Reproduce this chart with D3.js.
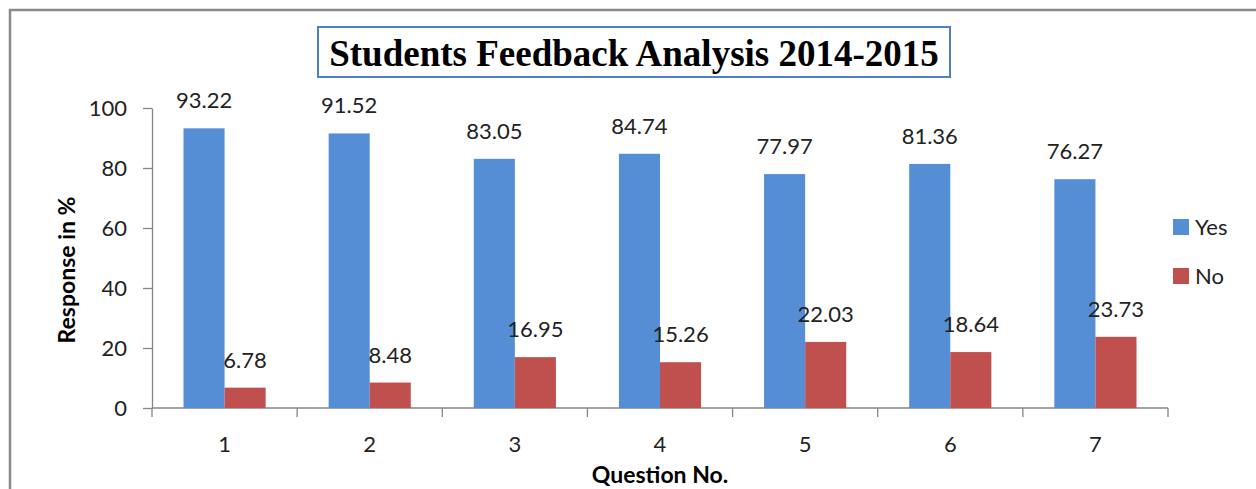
<!DOCTYPE html>
<html>
<head>
<meta charset="utf-8">
<script src="https://d3js.org/d3.v7.min.js"></script>
<style>
  body { margin: 0; background: #fff; }
  text { font-family: Lato, "Open Sans", sans-serif; }
</style>
</head>
<body>
<div id="viz"></div>
<script>

// Data
var questions = ["1", "2", "3", "4", "5", "6", "7"];
var yesValues = [93.22, 91.52, 83.05, 84.74, 77.97, 81.36, 76.27];
var noValues = [6.78, 8.48, 16.95, 15.26, 22.03, 18.64, 23.73];
var seriesNames = ["Yes", "No"];
var yTicks = [0, 20, 40, 60, 80, 100];

var width = 1256,
    height = 489;

var margin = { left: 152, right: 88, top: 108, bottom: 81 };
var plotRight = width - margin.right,
    plotBottom = height - margin.bottom;

var colors = d3.scaleOrdinal()
    .domain(seriesNames)
    .range(["#558ed5", "#c0504d"]);

var svg = d3.select("#viz")
    .append("svg")
    .attr("width", width)
    .attr("height", height);

// outer chart frame (runs off the right and bottom edges)
svg.append("rect")
    .attr("x", 10)
    .attr("y", 10)
    .attr("width", 1400)
    .attr("height", 700)
    .attr("fill", "none")
    .attr("stroke", "#8a8a8a")
    .attr("stroke-width", 2.5);

// Scales
var x0 = d3.scaleBand()
    .domain(questions)
    .range([margin.left, plotRight])
    .paddingInner(0.434)
    .paddingOuter(0.217);

var x1 = d3.scaleBand()
    .domain(seriesNames)
    .range([0, x0.bandwidth()]);

var y = d3.scaleLinear()
    .domain([0, 100])
    .range([plotBottom, margin.top]);

// Build rows from the arrays
var rows = questions.map(function(q, i) {
    return { q: q, values: [
        { name: "Yes", value: yesValues[i] },
        { name: "No", value: noValues[i] }
    ] };
});

// Y axis
var yAxis = svg.append("g")
    .attr("transform", "translate(" + margin.left + ",0)")
    .call(d3.axisLeft(y).tickValues(yTicks).tickSize(9).tickPadding(16).tickSizeOuter(0));

yAxis.select(".domain").attr("stroke", "#868686").attr("stroke-width", 1.3);
yAxis.selectAll(".tick line").attr("stroke", "#868686").attr("stroke-width", 1.3);
yAxis.selectAll(".tick text")
    .attr("fill", "#222")
    .style("font-size", "22px");

// X axis: line plus ticks on category boundaries
var step = x0.step();
var xAxis = svg.append("g");

xAxis.append("line")
    .attr("x1", margin.left)
    .attr("x2", plotRight)
    .attr("y1", y(0))
    .attr("y2", y(0))
    .attr("stroke", "#868686")
    .attr("stroke-width", 1.3);

var boundaries = [margin.left].concat(questions.map(function(q) {
    return x0(q) + x0.bandwidth() + step * x0.paddingInner() / 2;
}));
boundaries[boundaries.length - 1] = plotRight;

xAxis.selectAll(".xtick")
    .data(boundaries)
    .enter()
    .append("line")
    .attr("class", "xtick")
    .attr("x1", function(d) { return d; })
    .attr("x2", function(d) { return d; })
    .attr("y1", y(0))
    .attr("y2", y(0) + 9)
    .attr("stroke", "#868686")
    .attr("stroke-width", 1.3);

xAxis.selectAll(".xlabel")
    .data(questions)
    .enter()
    .append("text")
    .attr("class", "xlabel")
    .attr("x", function(d) { return x0(d) + x0.bandwidth() / 2; })
    .attr("y", 452)
    .attr("text-anchor", "middle")
    .attr("fill", "#222")
    .style("font-size", "22px")
    .text(function(d) { return d; });

// Bars
var groups = svg.selectAll(".group")
    .data(rows)
    .enter()
    .append("g")
    .attr("class", "group")
    .attr("transform", function(d) { return "translate(" + x0(d.q) + ",0)"; });

groups.selectAll("rect")
    .data(function(d) { return d.values; })
    .enter()
    .append("rect")
    .attr("x", function(d) { return x1(d.name); })
    .attr("y", function(d) { return y(d.value); })
    .attr("width", x1.bandwidth())
    .attr("height", function(d) { return y(0) - y(d.value); })
    .attr("fill", function(d) { return colors(d.name); });

// Value labels
groups.selectAll(".vlabel")
    .data(function(d) { return d.values; })
    .enter()
    .append("text")
    .attr("class", "vlabel")
    .attr("x", function(d) { return x1(d.name) + x1.bandwidth() / 2; })
    .attr("y", function(d) { return y(d.value) - 20; })
    .attr("text-anchor", "middle")
    .attr("fill", "#222")
    .style("font-size", "22px")
    .text(function(d) { return d.value; });

// Axis titles
svg.append("text")
    .attr("transform", "translate(75," + ((margin.top + plotBottom) / 2 + 12) + ") rotate(-90)")
    .attr("text-anchor", "middle")
    .attr("fill", "#000")
    .style("font-size", "23px")
    .style("font-weight", "bold")
    .text("Response in %");

svg.append("text")
    .attr("x", (margin.left + plotRight) / 2)
    .attr("y", 483)
    .attr("text-anchor", "middle")
    .attr("fill", "#000")
    .style("font-size", "23px")
    .style("font-weight", "bold")
    .text("Question No.");

// Title in a blue box
svg.append("rect")
    .attr("x", 318)
    .attr("y", 27)
    .attr("width", 632)
    .attr("height", 50)
    .attr("fill", "#fff")
    .attr("stroke", "#4f81bd")
    .attr("stroke-width", 2);

svg.append("text")
    .attr("x", 634)
    .attr("y", 66)
    .attr("text-anchor", "middle")
    .attr("fill", "#000")
    .style("font-family", "'Liberation Serif', 'Times New Roman', serif")
    .style("font-size", "37px")
    .style("font-weight", "bold")
    .text("Students Feedback Analysis 2014-2015");

// Legend
var legend = svg.selectAll(".legend")
    .data(seriesNames)
    .enter()
    .append("g")
    .attr("class", "legend")
    .attr("transform", function(d, i) { return "translate(1173," + (219 + i * 49) + ")"; });

legend.append("rect")
    .attr("width", 16)
    .attr("height", 16)
    .attr("fill", function(d) { return colors(d); });

legend.append("text")
    .attr("x", 22)
    .attr("y", 16)
    .attr("fill", "#222")
    .style("font-size", "22px")
    .text(function(d) { return d; });

</script>
</body>
</html>
